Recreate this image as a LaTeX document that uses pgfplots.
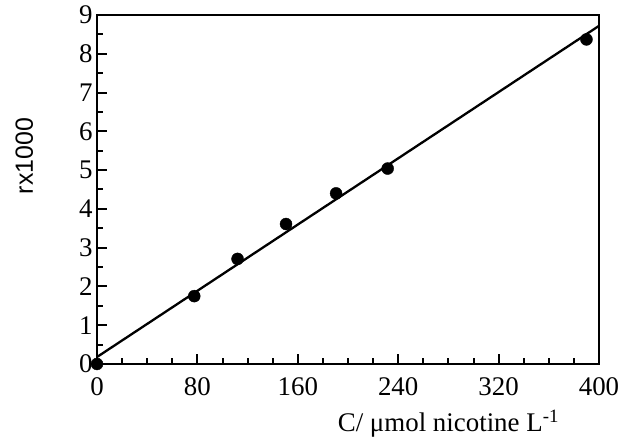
\documentclass[border=0pt]{standalone}
\usepackage{fontspec}
\setmainfont{Liberation Serif}
\newfontfamily\labfont{Liberation Sans}
\usepackage{pgfplots}
\pgfplotsset{compat=1.18}
\begin{document}
\begin{tikzpicture}[x=1bp,y=1bp]
\path[use as bounding box] (0,0) rectangle (618,439);
\begin{axis}[
  at={(97bp,75bp)}, anchor=south west,
  scale only axis, width=502bp, height=349bp,
  xmin=0, xmax=400, ymin=0, ymax=9,
  xtick={0,80,160,240,320,400},
  minor x tick num=3,
  ytick={0,1,...,9},
  minor y tick num=1,
  tick align=inside,
  tick pos=left,
  major tick length=10bp, minor tick length=6bp,
  axis line style={line width=2.3bp},
  every tick/.style={line width=2bp, black},
  font=\fontsize{27}{30}\selectfont,
  /pgf/number format/assume math mode=true,
  xticklabel style={yshift=-10bp},
  yticklabel style={xshift=-1bp},
  clip=false,
]
\addplot[black, line width=2.3bp] coordinates {(0,0.18) (400,8.72)};
\addplot[only marks, mark=*, mark size=6bp, black] coordinates {
 (0,0) (77.5,1.75) (112,2.71) (150.6,3.61) (190.5,4.40) (231.6,5.04) (390,8.37)
};
\node at (rel axis cs:0.70,-0.172) {\fontsize{27}{30}\selectfont C/ μmol nicotine L\textsuperscript{-1}};
\node[rotate=90] at (rel axis cs:-0.145,0.596) {\labfont\fontsize{25}{28}\selectfont rx1000};
\end{axis}
\end{tikzpicture}
\end{document}
